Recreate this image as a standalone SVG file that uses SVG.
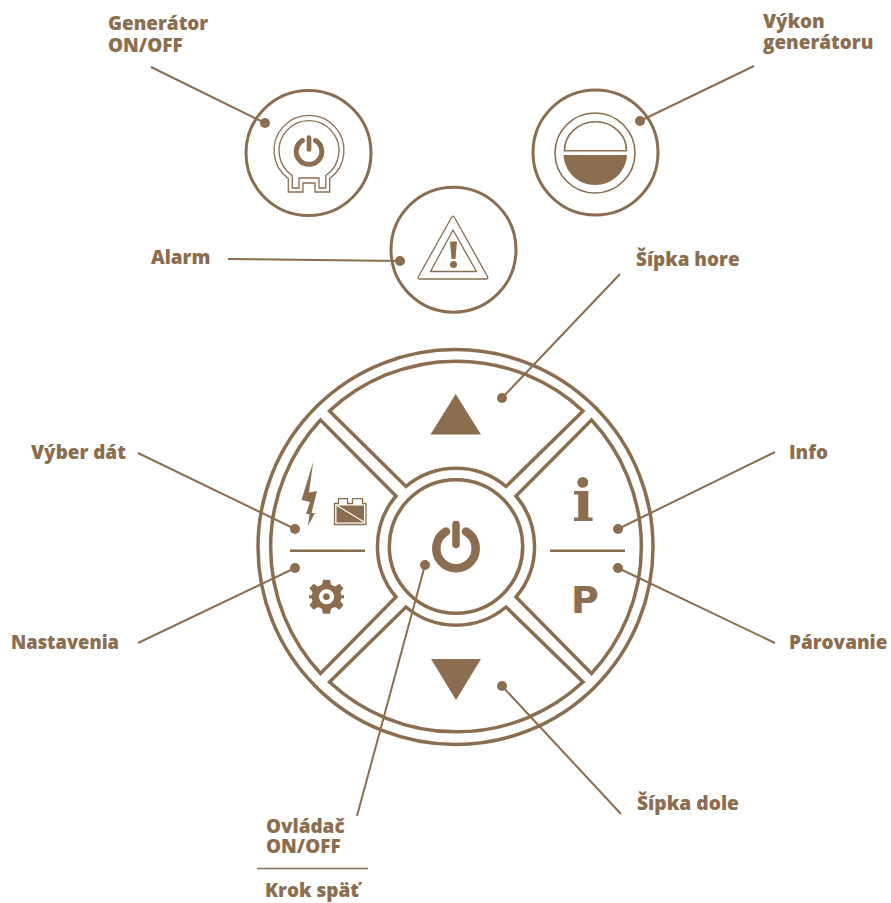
<svg xmlns="http://www.w3.org/2000/svg" width="891" height="903" viewBox="0 0 891 903">
<style>
text{font-family:"Open Sans","Noto Sans",sans-serif;font-weight:800;font-size:18.900px;fill:#8b6d4f}
.o{fill:none;stroke:#8b6d4f;stroke-width:3.5;stroke-linejoin:miter}
.t{fill:none;stroke:#8b6d4f;stroke-width:1.3}
.f{fill:#8b6d4f}
.c{fill:none;stroke:#8b6d4f;stroke-width:2}
.pw{fill:none;stroke:#8b6d4f;stroke-linecap:round}
</style>
<rect width="891" height="903" fill="#fff"/>
<g id="node-generator">
<circle class="o" style="stroke-width:3" cx="308.500" cy="153" r="62.500"/>
<path class="t" d="M288.300 178.500A35 35 0 1 1 329.700 178.500V192H315V183H303V192H288.300Z"/>
<path class="t" d="M292.200 175.500A30 30 0 1 1 325.800 175.500V188H319V178H299V188H292.200Z"/>
<path class="pw" stroke-width="5" d="M302.500 140.500A12.800 12.800 0 1 0 315.500 140.500"/>
<path class="pw" stroke-width="4.700" d="M309 137.500V149.500"/>
</g>
<g id="node-vykon">
<circle class="o" style="stroke-width:3" cx="595.500" cy="152.500" r="62.500"/>
<circle class="t" style="stroke-width:1.600" cx="595" cy="153" r="40"/>
<path class="t" style="stroke-width:1.600" d="M564.500 150.700A31 29 0 0 1 626.500 150.700Z"/>
<path class="f" d="M563.500 155H627C626 172 612 185 595 185C578 185 564.500 172 563.500 155Z"/>
</g>
<g id="node-alarm">
<circle class="o" style="stroke-width:3" cx="453.500" cy="249.700" r="62.500"/>
<path class="t" stroke-linejoin="round" d="M451.500 217.500Q453 215 454.500 217.500L487.500 276.500Q488.500 279 486 279H420Q417.500 279 418.500 276.500Z"/>
<path class="t" stroke-linejoin="round" d="M453 230L476.500 271.500H430.500Z"/>
<path class="f" d="M450 241.500H457L455.500 259H451.500Z"/>
<circle class="f" cx="453.500" cy="264.500" r="3.500"/>
</g>
<g id="node-dial">
<circle class="o" cx="455.500" cy="547" r="197.500"/>
</g>
<g id="node-up">
<path class="o" d="M329.500 411A186 186 0 0 1 583 411L506 486.500A78 78 0 0 0 406 486.500Z"/>
<path class="f" d="M455.700 394L481 434.500H430.500Z"/>
</g>
<g id="node-down">
<path class="o" d="M329.500 682A186 186 0 0 0 583 682L506 607A78 78 0 0 1 406 607Z"/>
<path class="f" d="M456 700L481 659H431Z"/>
</g>
<g id="node-left">
<path class="o" d="M320.500 420A186 186 0 0 0 320.500 673.500L396 597A78 78 0 0 1 396 496Z"/>
<path class="f" d="M290 549.500H365V552H290Z"/>
<path class="f" d="M313.300 461.500L301.500 500L310 502L306 514H309.500L308 526L315 513H311.500L317 491L309 492.500Z"/>
<path class="t" d="M338.500 503.500V498.700H347.500V503.500H352.500V498.700H362.500V503.500H366V524.500H334.500V503.500Z"/>
<path class="f" d="M336.500 505.500H364V522.500H336.500Z"/>
<path d="M337 505.500L364 522" stroke="#fff" stroke-width="1.200"/>
<g class="f" transform="translate(326.500 596.700)"><path fill-rule="evenodd" d="M-3.500 -17H3.500L4.500 -12L8.500 -10.200L13 -13L17 -8.500L14 -4.500L15 -1.500H17.500V1.500H15L14 4.500L17 8.500L13 13L8.500 10.200L4.500 12L3.500 17H-3.500L-4.500 12L-8.500 10.200L-13 13L-17 8.500L-14 4.500L-15 1.500H-17.500V-1.500H-15L-14 -4.500L-17 -8.500L-13 -13L-8.500 -10.200L-4.500 -12ZM0 -7.500A7.500 7.500 0 1 0 0.100 -7.500ZM0 -3.500A3.500 3.500 0 1 1 -0.100 -3.500Z"/></g>
</g>
<g id="node-right">
<path class="o" d="M591.500 420A186 186 0 0 1 591.500 673.500L516 597A78 78 0 0 0 516 496Z"/>
<path class="f" d="M550 549.500H625V552H550Z"/>
<text x="583" y="521" text-anchor="middle" style="font-family:'DejaVu Serif',serif;font-weight:700;font-size:58px">i</text>
<text x="585" y="613" text-anchor="middle" style="font-family:'DejaVu Sans',sans-serif;font-weight:700;font-size:38px">P</text>
</g>
<g id="node-power">
<circle class="o" cx="456" cy="546.500" r="66.700"/>
<path class="pw" stroke-width="8.500" d="M446 531.500A19.700 19.700 0 1 0 466 531.500"/>
<path class="pw" stroke-width="7.500" d="M456 524.500V544.500"/>
</g>
<g id="connectors">
<path class="c" d="M151 67L265 123M754 66L640 121M228 259L400 261M620 274L502 398M138 453L295 529M138 643L295 568M775 452L618 529M775 643L618 568M621 814L502 686M357 816L425 565"/>
<g class="f">
<circle cx="265" cy="123" r="5"/><circle cx="640" cy="121" r="5"/><circle cx="400" cy="261" r="5"/><circle cx="502" cy="398" r="5"/><circle cx="295" cy="529" r="5"/><circle cx="295" cy="568" r="5"/><circle cx="618" cy="529" r="5"/><circle cx="618" cy="568" r="5"/><circle cx="502" cy="686" r="5"/><circle cx="425" cy="565" r="5"/>
</g>
<path d="M257 868.500H368" stroke="#8b6d4f" stroke-width="1.500"/>
</g>
<g id="labels">
<text x="108" y="30">Generátor</text><text x="108" y="51.500">ON/OFF</text>
<text x="763" y="28">Výkon</text><text x="763" y="49">generátoru</text>
<text x="151" y="263.700">Alarm</text>
<text x="636" y="265.700">Šípka hore</text>
<text x="31" y="458.700">Výber dát</text>
<text x="789" y="458.700">Info</text>
<text x="11" y="648.700" textLength="108" lengthAdjust="spacingAndGlyphs">Nastavenia</text>
<text x="789" y="648.700">Párovanie</text>
<text x="637" y="809.700" textLength="102" lengthAdjust="spacingAndGlyphs">Šípka dole</text>
<text x="266" y="833">Ovládač</text><text x="266" y="853">ON/OFF</text>
<text x="265" y="897" textLength="94" lengthAdjust="spacingAndGlyphs">Krok späť</text>
</g>
</svg>
